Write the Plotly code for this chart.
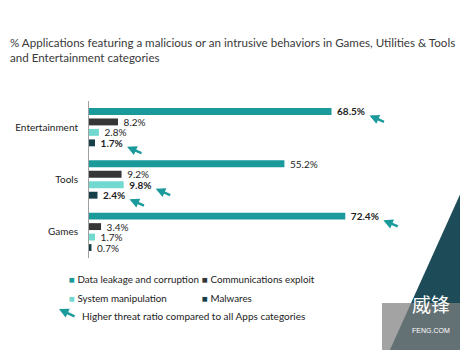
import plotly.graph_objects as go

# ---- data -------------------------------------------------------------
categories = ["Games", "Tools", "Entertainment"]          # bottom -> top
series_names = ["Data leakage and corruption", "Communications exploit",
                "System manipulation", "Malwares"]          # top -> bottom within a group
data_leakage = [72.4, 55.2, 68.5]
communications = [3.4, 9.2, 8.2]
system_manip = [1.7, 9.8, 2.8]
malwares = [0.7, 2.4, 1.7]
# values flagged as a higher threat ratio than all app categories
flag_leakage = [True, False, True]
flag_comm = [False, False, False]
flag_sys = [False, True, False]
flag_mal = [False, True, True]

values = [data_leakage, communications, system_manip, malwares]
flags = [flag_leakage, flag_comm, flag_sys, flag_mal]
colors = ["#1b9a9b", "#363636", "#72d9d1", "#173f49"]

TITLE = ("% Applications featuring a malicious or an intrusive behaviors in Games, "
         "Utilities & Tools<br>and Entertainment categories")
ARROW_NOTE = "Higher threat ratio compared to all Apps categories"

FONT = "Lato"
TEAL = "#1b9a9b"

# ---- layout geometry (pixels) -----------------------------------------
W, H = 460, 350
ML, MR, MT, MB = 89, 17, 101, 92
PW, PH = W - ML - MR, H - MT - MB
GROUP_STEP = 5          # slots per category
Y_RANGE = [-2.5, 12.5]


def px_to_paper(px, py):
    return (px - ML) / PW, (H - MB - py) / PH


fig = go.Figure()
annotations = []

for k, name in enumerate(series_names):
    ys = [i * GROUP_STEP + (1.5 - k) for i in range(len(categories))]
    texts = []
    for v, f in zip(values[k], flags[k]):
        lbl = f"{v:.1f}%"
        texts.append(f" <b>{lbl}</b>" if f else f" {lbl}")
    fig.add_trace(go.Bar(
        name=name, orientation="h", x=values[k], y=ys,
        width=0.66, marker=dict(color=colors[k], line=dict(width=0)),
        text=texts, textposition="outside", constraintext="none",
        textfont=dict(family=FONT, size=10, color="#1e1e1e"),
        cliponaxis=False, showlegend=False, hoverinfo="skip",
    ))
    # arrows next to flagged labels
    for v, y, f in zip(values[k], ys, flags[k]):
        if f:
            lbl = f"{v:.1f}%"
            annotations.append(dict(
                x=v, y=y, xref="x", yref="y", text="", showarrow=True,
                xshift=8 + 6.0 * len(lbl), yshift=-4,
                ax=16, ay=7, arrowhead=2, arrowsize=0.8, arrowwidth=2.4,
                arrowcolor=TEAL, standoff=0,
            ))

# hand-built legend (two aligned columns)
legend_cells = [
    (series_names[0], colors[0], 67, 279),
    (series_names[1], colors[1], 200, 279),
    (series_names[2], colors[2], 67, 298),
    (series_names[3], colors[3], 200, 298),
]
for name, col, px, py in legend_cells:
    x, y = px_to_paper(px, py)
    annotations.append(dict(
        x=x, y=y, xref="paper", yref="paper", xanchor="left", yanchor="middle",
        text=f"<span style='color:{col}'>■</span> {name}", showarrow=False,
        font=dict(family=FONT, size=9.8, color="#222222"),
    ))

# arrow key
hx, hy = px_to_paper(59, 309)
annotations.append(dict(x=hx, y=hy, xref="paper", yref="paper", text="",
                        showarrow=True, ax=17, ay=8, arrowhead=2, arrowsize=0.8,
                        arrowwidth=2.4, arrowcolor=TEAL, standoff=0))
tx, ty = px_to_paper(80, 316)
annotations.append(dict(x=tx, y=ty, xref="paper", yref="paper", xanchor="left",
                        yanchor="middle", text=ARROW_NOTE, showarrow=False,
                        font=dict(family=FONT, size=10, color="#222222")))

shapes = []
# dark corner triangle
p1 = px_to_paper(462, 190)
p2 = px_to_paper(462, 352)
p3 = px_to_paper(389, 352)
shapes.append(dict(type="path", xref="paper", yref="paper", layer="below",
                   path=f"M{p1[0]},{p1[1]} L{p2[0]},{p2[1]} L{p3[0]},{p3[1]} Z",
                   fillcolor="#1d4b57", line=dict(width=0)))
# watermark plate (drawn after the triangle so it sits on top of it)
a = px_to_paper(382, 303)
b = px_to_paper(462, 352)
shapes.append(dict(type="path", xref="paper", yref="paper", layer="below",
                   path=(f"M{a[0]},{a[1]} L{b[0]},{a[1]} L{b[0]},{b[1]} "
                         f"L{a[0]},{b[1]} Z"),
                   fillcolor="rgba(128,128,128,0.72)", line=dict(width=0)))

# watermark text
wx, wy = px_to_paper(431, 319)
annotations.append(dict(x=wx, y=wy, xref="paper", yref="paper", text="威锋",
                        showarrow=False, xanchor="center",
                        font=dict(family="Noto Sans CJK SC", size=19, color="white")))
wx, wy = px_to_paper(431, 336)
annotations.append(dict(x=wx, y=wy, xref="paper", yref="paper", text="FENG.COM",
                        showarrow=False, xanchor="center",
                        font=dict(family="Liberation Sans", size=7, color="white")))

fig.update_layout(
    width=W, height=H,
    margin=dict(l=ML, r=MR, t=MT, b=MB, autoexpand=False),
    paper_bgcolor="white", plot_bgcolor="rgba(0,0,0,0)",
    barmode="overlay",
    title=dict(text=TITLE, x=10 / W, xanchor="left", xref="container",
               y=1 - 47 / H, yanchor="top", yref="container",
               font=dict(family=FONT, size=11.6, color="#3a3a3a")),
    xaxis=dict(range=[0, 100], visible=False, fixedrange=True, automargin=False),
    yaxis=dict(range=Y_RANGE, tickmode="array",
               tickvals=[i * GROUP_STEP for i in range(len(categories))],
               ticktext=categories, showgrid=False, zeroline=False,
               showline=True, linecolor="#a0a0a0", linewidth=1,
               ticks="", ticklabelstandoff=8, automargin=False,
               tickfont=dict(family=FONT, size=10, color="#222222")),
    annotations=annotations, shapes=shapes,
    showlegend=False,
)

fig.write_html("out.html")
